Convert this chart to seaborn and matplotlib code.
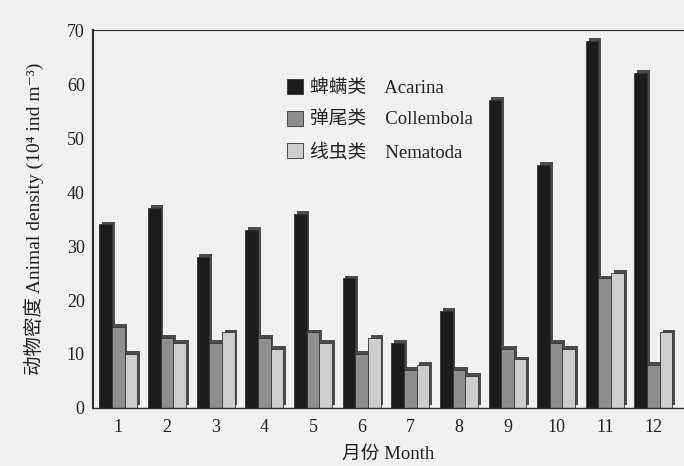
import matplotlib
matplotlib.use("Agg")
import matplotlib.pyplot as plt
import matplotlib.patheffects as pe
from matplotlib.ticker import FixedLocator
import seaborn as sns
import pandas as pd

# values (10^4 ind m^-3)
months = ["1", "2", "3", "4", "5", "6", "7", "8", "9", "10", "11", "12"]
acarina = [34, 37, 28, 33, 36, 24, 12, 18, 57, 45, 68, 62]
collembola = [15, 13, 12, 13, 14, 10, 7, 7, 11, 12, 24, 8]
nematoda = [10, 12, 14, 11, 12, 13, 8, 6, 9, 11, 25, 14]
groups = ["蜱螨类    Acarina", "弹尾类    Collembola", "线虫类    Nematoda"]
colors = ["#1c1c1c", "#8e8e8e", "#cdcdcd"]

df = pd.DataFrame({
    "Month": months * 3,
    "Density": acarina + collembola + nematoda,
    "Group": [g for g in groups for _ in months],
})

sns.set_theme(style="white")
plt.rcParams["font.family"] = ["Liberation Serif", "Noto Sans CJK SC", "DejaVu Sans"]
bg = "#f1f1f1"

fig = plt.figure(figsize=(6.84, 4.66), dpi=100, facecolor=bg)
ax = fig.add_axes([0.136, 0.1245, 0.862, 0.811], facecolor=bg)

sns.barplot(data=df, x="Month", y="Density", hue="Group", order=months,
            hue_order=groups, palette=colors, width=0.78, edgecolor="#333333",
            linewidth=0.6, ax=ax, legend=True)

# fake 3D depth like the scanned figure
for p in ax.patches:
    p.set_path_effects([pe.SimplePatchShadow(offset=(2, 2), shadow_rgbFace="#3a3a3a", alpha=0.9),
                        pe.Normal()])

ax.set_ylim(0, 70)
ax.set_xlim(-0.52, 11.6)
ax.set_yticks(range(0, 71, 10))
ax.tick_params(axis="y", labelsize=13, direction="out", length=3, width=0.8, pad=3, colors="#222222")
ax.tick_params(axis="x", which="major", labelsize=13, length=0, pad=8, colors="#222222")
ax.xaxis.set_minor_locator(FixedLocator([i + 0.5 for i in range(len(months) - 1)]))
ax.tick_params(axis="x", which="minor", direction="in", length=3, width=0.8, color="#333333")

ax.set_xlabel("月份 Month", fontsize=13.5, color="#222222", labelpad=7)
ax.set_ylabel("动物密度 Animal density (10⁴ ind m⁻³)", fontsize=14, color="#222222", labelpad=16)

for s in ["left", "bottom", "top"]:
    ax.spines[s].set_color("#333333")
ax.spines["left"].set_linewidth(1.6)
ax.spines["bottom"].set_linewidth(1.0)
ax.spines["top"].set_linewidth(0.8)
ax.spines["right"].set_visible(False)

leg = ax.legend(loc="upper left", bbox_to_anchor=(0.3, 0.915), frameon=False,
                fontsize=13.5, handlelength=0.85, handleheight=0.85, handletextpad=0.4,
                labelspacing=0.75)
for h in leg.legend_handles:
    h.set_path_effects([])
for t in leg.get_texts():
    t.set_color("#222222")

fig.savefig("out.png", dpi=100, facecolor=bg)
